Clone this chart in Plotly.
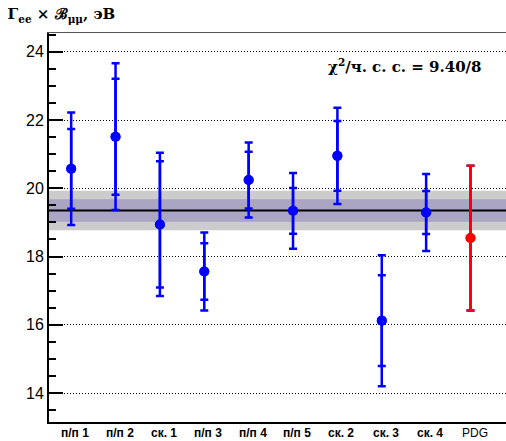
import plotly.graph_objects as go

categories = ["п/п 1", "п/п 2", "ск. 1", "п/п 3", "п/п 4", "п/п 5", "ск. 2", "ск. 3", "ск. 4", "PDG"]
values = [20.57, 21.51, 18.94, 17.56, 20.24, 19.34, 20.95, 16.12, 19.29, 18.54]
stat_err = [1.17, 1.70, 1.85, 0.83, 0.83, 0.67, 1.02, 1.33, 0.63, None]
total_err = [1.65, 2.15, 2.10, 1.14, 1.10, 1.11, 1.41, 1.92, 1.13, 2.12]
colors = ["#0000ff"] * 9 + ["#ff0000"]
mean_value = 19.35
mean_inner = 0.33
mean_outer = 0.58
y_ticks = [14, 16, 18, 20, 22, 24]
chi2_text = "<b>χ<sup>2</sup>/ч. с. с. = 9.40/8</b>"

xpos = list(range(len(categories)))
meas_x = xpos[:9]

fig = go.Figure()

fig.add_shape(type="rect", xref="paper", x0=0, x1=1, yref="y",
              y0=mean_value - mean_outer, y1=mean_value + mean_outer,
              fillcolor="#cccccc", line_width=0, layer="below")
fig.add_shape(type="rect", xref="paper", x0=0, x1=1, yref="y",
              y0=mean_value - mean_inner, y1=mean_value + mean_inner,
              fillcolor="#a9a5c2", line_width=0, layer="below")
fig.add_shape(type="line", xref="paper", x0=0, x1=1, yref="y",
              y0=mean_value, y1=mean_value,
              line=dict(color="black", width=2), layer="below")

fig.add_trace(go.Scatter(
    x=xpos, y=values, mode="markers",
    marker=dict(color=colors, size=10),
    error_y=dict(type="data", array=total_err, symmetric=True,
                 thickness=2.5, width=4, color="#0000ff"),
    showlegend=False,
))
fig.add_trace(go.Scatter(
    x=meas_x, y=values[:9], mode="markers",
    marker=dict(color="#0000ff", size=10),
    error_y=dict(type="data", array=stat_err[:9], symmetric=True,
                 thickness=2.5, width=4, color="#0000ff"),
    showlegend=False,
))
fig.add_trace(go.Scatter(
    x=[xpos[9]], y=[values[9]], mode="markers",
    marker=dict(color="#ff0000", size=10),
    error_y=dict(type="data", array=[total_err[9]], symmetric=True,
                 thickness=2.5, width=4, color="#ff0000"),
    showlegend=False,
))
fig.add_trace(go.Scatter(x=[None], y=[None], xaxis="x2", showlegend=False))

fig.update_layout(
    width=506, height=441,
    margin=dict(l=49, r=0, t=33, b=19, autoexpand=False),
    paper_bgcolor="white", plot_bgcolor="white",
    font=dict(family="Liberation Sans, Arial, sans-serif", color="black"),
    title=dict(text="<b>Γ<sub>ee</sub> × ℬ<sub>μμ</sub>, эВ</b>",
               font=dict(family="DejaVu Serif", size=15, color="black"),
               x=0.015, xanchor="left", y=0.968, yanchor="middle"),
    xaxis=dict(range=[-0.5, 9.8], showticklabels=False, automargin=False,
               showgrid=False, zeroline=False, ticks="",
               showline=True, linecolor="black", linewidth=2, mirror=False),
    xaxis2=dict(overlaying="x", side="top", range=[-0.5, 9.8], automargin=False,
                showline=True, linecolor="#555555", linewidth=1,
                showticklabels=False, showgrid=False, zeroline=False),
    yaxis=dict(range=[13.15, 24.55], tickvals=y_ticks, automargin=False,
               showgrid=True, gridcolor="black", griddash="1px,2px", gridwidth=1,
               zeroline=False, ticks="inside", ticklen=14, tickwidth=2,
               tickcolor="black", showline=True, linecolor="black", linewidth=2,
               tickfont=dict(size=16),
               minor=dict(dtick=0.5, tick0=0, ticks="inside", ticklen=7,
                          tickwidth=1.5, tickcolor="black", showgrid=False)),
)

for xi, cat in zip(xpos, categories):
    txt = cat if cat == "PDG" else "<b>%s</b>" % cat
    fig.add_annotation(text=txt, x=xi, xref="x", y=0, yref="paper",
                       yanchor="middle", yshift=-11, xshift=4, showarrow=False,
                       font=dict(family="Liberation Sans, Arial, sans-serif",
                                 size=12, color="black"))

fig.add_annotation(text=chi2_text, xref="paper", yref="paper",
                   x=0.95, y=0.915, xanchor="right", yanchor="middle",
                   showarrow=False,
                   font=dict(family="DejaVu Serif", size=15, color="black"))

fig.write_html("out.html", config={"displayModeBar": False},
               post_script="document.body.style.margin='0px';document.body.style.padding='0px';")
